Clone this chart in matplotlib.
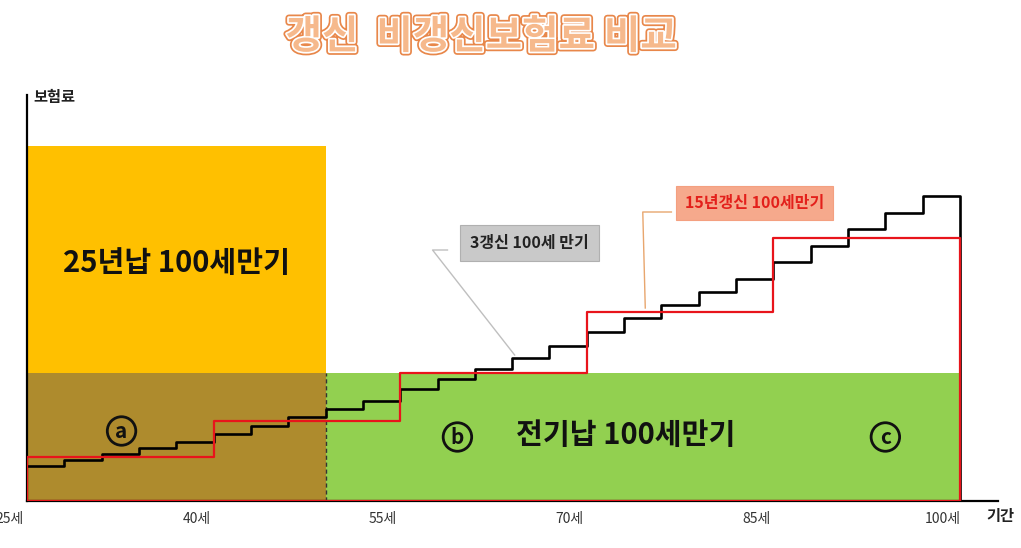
import matplotlib.pyplot as plt
import matplotlib.patheffects as pe
import matplotlib.transforms as mtransforms
import numpy as np
from matplotlib.patches import Rectangle

plt.rcParams['font.family'] = ['Noto Sans CJK KR', 'DejaVu Sans']

# 3년 갱신형 (3년마다 보험료 인상)
renew3_edges = np.arange(25, 101, 3)
renew3_prem = [35, 41, 47, 53, 59, 67, 75, 84, 92, 100, 112, 122, 132,
               143, 155, 169, 183, 196, 209, 222, 239, 255, 272, 288, 305]

# 15년 갱신형
renew15_edges = [25, 40, 55, 70, 85, 100]
renew15_prem = [44, 80, 128, 189, 263]

# 비갱신형 납입 구간
pay25_start, pay25_end, pay25_prem = 25, 49, 355
full_start, full_end, full_prem = 49, 100, 128

tick_ages = [25, 40, 55, 70, 85, 100]
tick_labels = ['25세', '40세', '55세', '70세', '85세', '100세']

fig = plt.figure(figsize=(10.21, 5.48), dpi=100)
ax = fig.add_axes([27 / 1021, 47 / 548, 971 / 1021, 406 / 548])
ax.set_xlim(25, 25 + 971 / 12.44)
ax.set_ylim(0, 406)

# 영역
ax.add_patch(Rectangle((pay25_start, 0), pay25_end - pay25_start, pay25_prem,
                       facecolor='#FFC000', edgecolor='none', zorder=1))
ax.add_patch(Rectangle((full_start, 0), full_end - full_start, full_prem,
                       facecolor='#92D050', edgecolor='none', zorder=1))
ax.add_patch(Rectangle((pay25_start, 0), pay25_end - pay25_start, full_prem,
                       facecolor='#AE8B2D', edgecolor='none', zorder=2))
ax.plot([pay25_end, pay25_end], [0, full_prem], color='#333333', lw=1,
        ls=(0, (3, 2)), zorder=3)

# 계단선
xs = np.append(renew3_edges, 100)
ys = renew3_prem + [renew3_prem[-1], 0]
ax.step(xs, ys, where='post', color='black', lw=1.9, zorder=5)

xr = [25] + renew15_edges + [100]
yr = [0] + renew15_prem + [renew15_prem[-1], 0]
ax.step(xr, yr, where='post', color='#E8141B', lw=1.6, zorder=6)
ax.plot([25, 100], [0, 0], color='#E8141B', lw=1.6, zorder=6)

# 구간 텍스트
ax.text(37, 238, '25년납 100세만기', ha='center', va='center',
        fontsize=21, fontweight='bold', color='#111111', zorder=7)
ax.text(73.1, 66, '전기납 100세만기', ha='center', va='center',
        fontsize=21, fontweight='bold', color='#111111', zorder=7)
for age, yy, lab in [(32.6, 70, 'a'), (59.6, 64, 'b'), (94, 64, 'c')]:
    ax.text(age, yy, lab, ha='center', va='center', fontsize=15,
            fontweight='bold', color='#111111', zorder=7,
            bbox=dict(boxstyle='circle,pad=0.18', facecolor='none',
                      edgecolor='#111111', lw=2))

# 말풍선
ax.plot([64.2, 57.6, 58.8], [146, 251, 251], color='#BFBFBF', lw=1,
        clip_on=False, zorder=8)
ax.text(65.4, 258, '3갱신 100세 만기', ha='center', va='center',
        fontsize=11.5, fontweight='bold', color='#222222', zorder=9,
        bbox=dict(boxstyle='square,pad=0.65', facecolor='#C9C9C9',
                  edgecolor='#B0B0B0', lw=0.8))
ax.plot([74.7, 74.5, 76.8], [193, 289, 289], color='#E8A66E', lw=1,
        clip_on=False, zorder=8)
ax.text(83.5, 298, '15년갱신 100세만기', ha='center', va='center',
        fontsize=11.5, fontweight='bold', color='#E3201B', zorder=9,
        bbox=dict(boxstyle='square,pad=0.55', facecolor='#F6A98C',
                  edgecolor='#F4A080', lw=0.8))

# 축
for s in ['top', 'right']:
    ax.spines[s].set_visible(False)
for s in ['left', 'bottom']:
    ax.spines[s].set_linewidth(1.6)
    ax.spines[s].set_color('black')
ax.set_yticks([])
ax.set_xticks(tick_ages)
ax.set_xticklabels(tick_labels, fontsize=10, color='#333333')
ax.tick_params(axis='x', length=0, pad=8)
offset = mtransforms.ScaledTranslation(-0.17, 0, fig.dpi_scale_trans)
for lab in ax.get_xticklabels():
    lab.set_transform(lab.get_transform() + offset)

fig.text(33 / 1021, 1 - 97 / 548, '보험료', ha='left', va='center',
         fontsize=11, fontweight='bold', color='#222222')
fig.text(1000 / 1021, 1 - 516 / 548, '기간', ha='center', va='center',
         fontsize=11, fontweight='bold', color='#222222')

fig.text(481 / 1021, 1 - 37 / 548, '갱신  비갱신보험료 비교', ha='center',
         va='center', fontsize=28.5, fontweight='bold', color='#F6B98C',
         path_effects=[pe.Stroke(linewidth=5, foreground='#E8874A'),
                       pe.Stroke(linewidth=2.5, foreground='white'),
                       pe.Normal()])

fig.savefig('out.png', dpi=100)
